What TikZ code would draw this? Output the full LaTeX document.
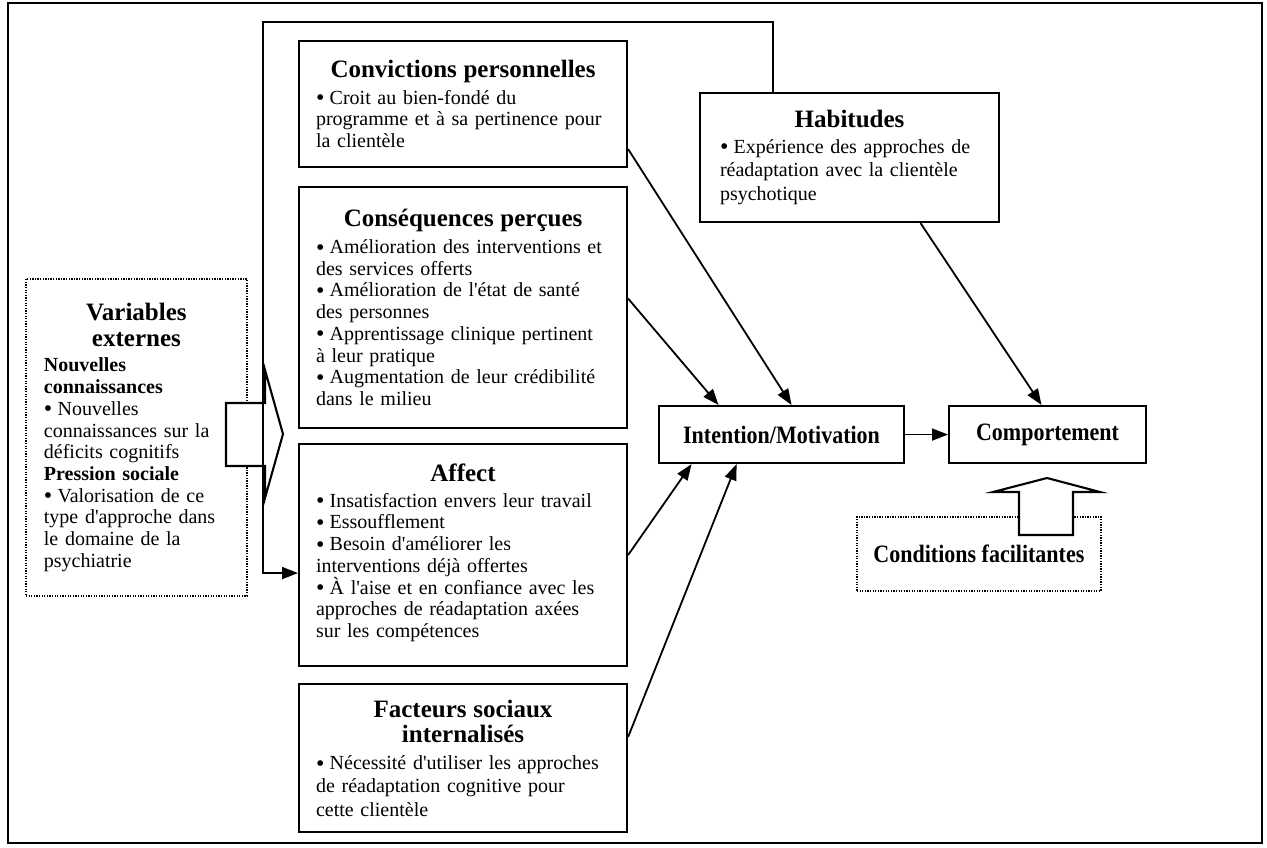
\documentclass[tikz,border=0pt]{standalone}
\usepackage{fontspec}
\setmainfont{Liberation Serif}[Ligatures=TeXOff]
\usetikzlibrary{arrows.meta}

% Type sizes used in the boxes
\newcommand\bodyfont{\fontsize{20}{21.7}\selectfont}
\newcommand\headfont{\fontsize{25}{28}\selectfont\bfseries}
\newcommand\keyfont{\fontsize{25}{26}\selectfont\bfseries}
% Centred box heading inside a left-aligned text block
\newcommand\hd[1]{\makebox[\linewidth][c]{\headfont #1}}
% Round list bullet, a little larger than the text one
\newcommand\bul{\makebox[7pt][l]{\fontsize{24}{0}\selectfont\raisebox{-1.6pt}{•}}}
% Narrow bold label for the key boxes
\newcommand\key[1]{\scalebox{0.88}[1]{#1}}

\begin{document}
\begin{tikzpicture}[x=1pt,y=-1pt,
  box/.style={draw, line width=2.1pt, rectangle, anchor=north west,
    inner sep=0pt, align=left, font=\bodyfont},
  dotbox/.style={box, line width=1.8pt, dash pattern=on 1.3pt off 1.3pt},
  keybox/.style={draw, line width=2.1pt, rectangle, anchor=north west,
    inner sep=0pt, font=\keyfont},
  link/.style={line width=1.8pt, -{Triangle[length=16pt,width=12pt]}},
  block/.style={draw, line width=2.1pt, fill=white, line join=miter}]

\useasboundingbox (0,0) rectangle (1267,847);

% outer frame
\draw[line width=2.2pt] (8,3) rectangle (1262,843);

% determinants
\node[box, minimum width=328, minimum height=126, text width=294] (conv) at (298,40) {%
\hd{Convictions personnelles}\\[5pt]
\bul{} Croit au bien-fondé du\\
programme et à sa pertinence pour\\
la clientèle};

\node[box, minimum width=328, minimum height=241, text width=294] (cons) at (298,186) {%
\hd{Conséquences perçues}\\[5pt]
\bul{} Amélioration des interventions et\\
des services offerts\\
\bul{} Amélioration de l'état de santé\\
des personnes\\
\bul{} Apprentissage clinique pertinent\\
à leur pratique\\
\bul{} Augmentation de leur crédibilité\\
dans le milieu};

\node[box, minimum width=328, minimum height=222, text width=294] (aff) at (298,443) {%
\hd{Affect}\\[4pt]
\bul{} Insatisfaction envers leur travail\\
\bul{} Essoufflement\\
\bul{} Besoin d'améliorer les\\
interventions déjà offertes\\
\bul{} À l'aise et en confiance avec les\\
approches de réadaptation axées\\
sur les compétences\\[-13pt]\mbox{}};

\node[box, minimum width=328, minimum height=148, text width=294] (fact) at (298,683) {%
\hd{Facteurs sociaux}\\[4pt]
\hd{internalisés}\\[5pt]
\bul{} Nécessité d'utiliser les approches\\[1.5pt]
de réadaptation cognitive pour\\[1.5pt]
cette clientèle};

\node[box, minimum width=299, minimum height=129, text width=259] (hab) at (699,92) {%
\hd{Habitudes}\\[4pt]
\bul{} Expérience des approches de\\[2pt]
réadaptation avec la clientèle\\[2pt]
psychotique};

\node[dotbox, minimum width=221, minimum height=317, text width=185] (ext) at (25,278) {%
\hd{Variables}\\[4pt]
\hd{externes}\\[4pt]
\textbf{Nouvelles}\\
\textbf{connaissances}\\
\bul{} Nouvelles\\
connaissances sur la\\
déficits cognitifs\\
\textbf{Pression sociale}\\
\bul{} Valorisation de ce\\
type d'approche dans\\
le domaine de la\\
psychiatrie};

% intention, behaviour and facilitating conditions
\node[keybox, minimum width=245, minimum height=57] (int) at (658,405) {\key{Intention/Motivation}};
\node[keybox, minimum width=197, minimum height=57] (comp) at (948,405) {\key{Comportement}};
\node[keybox, dash pattern=on 1.3pt off 1.3pt, line width=1.8pt,
      minimum width=244, minimum height=74] (cond) at (856,516) {\key{Conditions facilitantes}};

% hollow block arrows
\draw[block] (226,403) -- (265,403) -- (265,370) -- (283,434) -- (265,498)
  -- (265,466) -- (226,466) -- cycle;
\draw[block] (1019,535) -- (1019,492) -- (993,492) -- (1047,478) -- (1100,492)
  -- (1073,492) -- (1073,535) -- cycle;

% feedback line from the habits box round to the affect box
\coordinate (corner) at (263,22);
\draw[link] ([xshift=74pt]hab.north west) |- (corner) |- ([yshift=-18pt]aff.west);

% influences on intention and behaviour
\draw[link] ([yshift=-45pt]conv.east) -- ([xshift=10pt]int.north);
\draw[link] ([yshift=9pt]cons.east) -- ([xshift=-63pt]int.north);
\draw[link] (aff.east) -- ([xshift=-90pt]int.south);
\draw[link] ([yshift=21pt]fact.east) -- ([xshift=-45pt]int.south);
\draw[link] ([xshift=71pt]hab.south) -- ([xshift=-6pt]comp.north);
\draw[link] (int.east) -- (comp.west);
\end{tikzpicture}
\end{document}
